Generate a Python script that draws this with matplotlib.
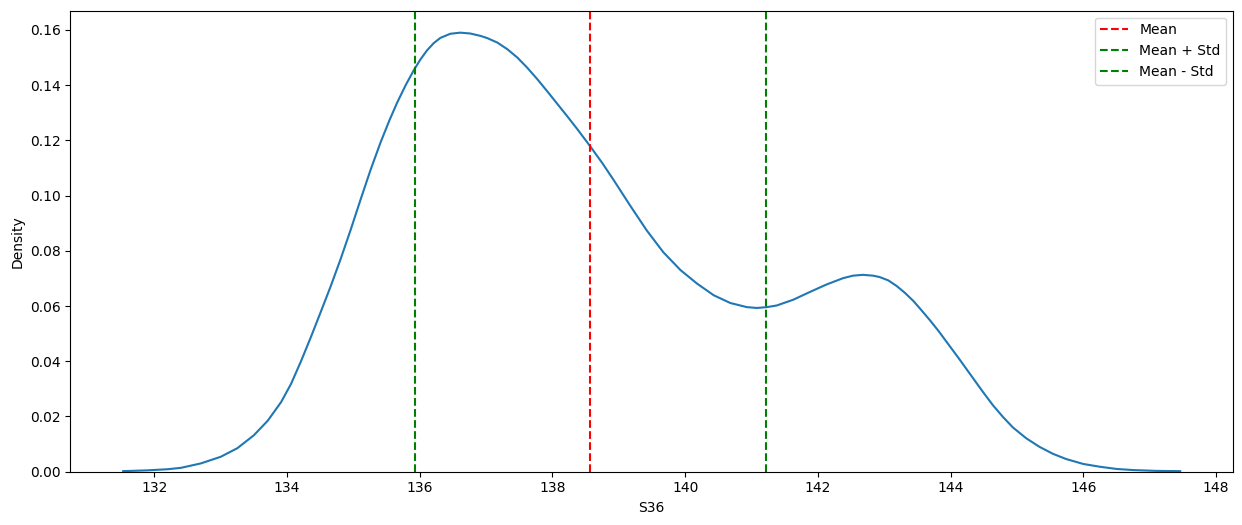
import matplotlib
matplotlib.use("Agg")
import matplotlib.pyplot as plt

# KDE curve of S36
s36_x = [131.53, 131.90, 132.20, 132.40, 132.70, 133.00, 133.25, 133.50, 133.71,
         133.91, 134.06, 134.21, 134.36, 134.51, 134.66, 134.81, 134.96, 135.11,
         135.26, 135.41, 135.54, 135.66, 135.79, 135.91, 136.01, 136.11, 136.21,
         136.31, 136.46, 136.61, 136.76, 136.92, 137.02, 137.17, 137.32, 137.47,
         137.62, 137.77, 137.92, 138.07, 138.22, 138.37, 138.57, 138.75, 138.92,
         139.17, 139.42, 139.67, 139.93, 140.18, 140.43, 140.68, 140.93, 141.08,
         141.23, 141.38, 141.63, 141.88, 142.13, 142.38, 142.53, 142.68, 142.83,
         142.93, 143.06, 143.19, 143.31, 143.44, 143.56, 143.69, 143.82, 143.94,
         144.14, 144.34, 144.49, 144.64, 144.79, 144.94, 145.14, 145.34, 145.54,
         145.74, 146.00, 146.25, 146.50, 146.75, 147.10, 147.46]
density = [0.0002, 0.0005, 0.0009, 0.0014, 0.0030, 0.0054, 0.0085, 0.0132, 0.0185,
           0.0252, 0.0318, 0.0400, 0.0488, 0.0580, 0.0673, 0.0772, 0.0877, 0.0987,
           0.1094, 0.1193, 0.1271, 0.1337, 0.1401, 0.1454, 0.1493, 0.1526, 0.1552,
           0.1571, 0.1586, 0.1590, 0.1587, 0.1578, 0.1570, 0.1554, 0.1530, 0.1500,
           0.1463, 0.1422, 0.1378, 0.1333, 0.1288, 0.1242, 0.1178, 0.1118, 0.1057,
           0.0964, 0.0874, 0.0795, 0.0730, 0.0681, 0.0639, 0.0611, 0.0596, 0.0593,
           0.0596, 0.0602, 0.0623, 0.0651, 0.0678, 0.0701, 0.0710, 0.0713, 0.0710,
           0.0705, 0.0693, 0.0672, 0.0648, 0.0618, 0.0585, 0.0548, 0.0509, 0.0470,
           0.0405, 0.0338, 0.0288, 0.0240, 0.0198, 0.0160, 0.0121, 0.0090, 0.0065,
           0.0046, 0.0028, 0.0018, 0.0010, 0.0006, 0.0003, 0.0002]

mean_val = 138.57
std_val = 2.645

fig = plt.figure(figsize=(12.42, 5.25), dpi=100)
ax = fig.add_axes([0.0566, 0.1015, 0.9362, 0.8781])
ax.plot(s36_x, density, color="#1f77b4", linewidth=1.5, solid_joinstyle="round")
ax.axvline(mean_val, color="red", linestyle="--", label="Mean")
ax.axvline(mean_val - std_val, color="green", linestyle="--", label="Mean + Std")
ax.axvline(mean_val + std_val, color="green", linestyle="--", label="Mean - Std")

margin = 0.05 * (s36_x[-1] - s36_x[0])
ax.set_xlim(s36_x[0] - margin, s36_x[-1] + margin)
ax.set_ylim(0, max(density) * 1.05)
ax.set_xticks([132, 134, 136, 138, 140, 142, 144, 146, 148])
ax.set_yticks([0.00, 0.02, 0.04, 0.06, 0.08, 0.10, 0.12, 0.14, 0.16])
ax.set_xlabel("S36")
ax.set_ylabel("Density")
ax.legend(loc="upper right")

fig.savefig("out.png", dpi=100)
